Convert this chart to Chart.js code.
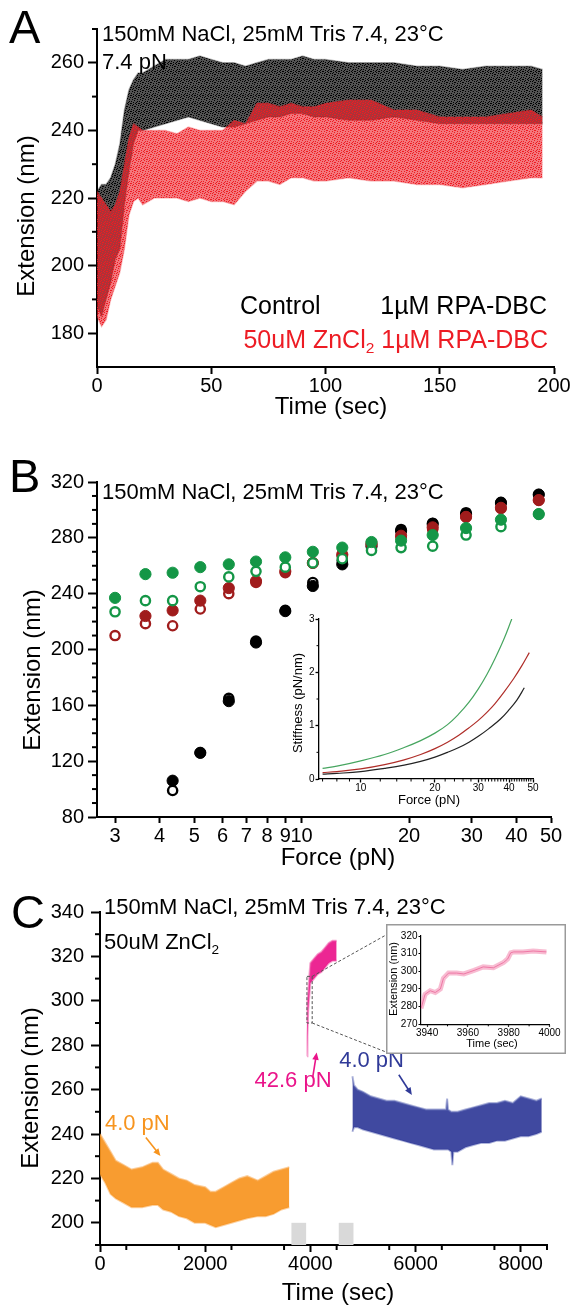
<!DOCTYPE html>
<html>
<head>
<meta charset="utf-8">
<title>RPA-DBC extension traces</title>
<script src="https://cdn.jsdelivr.net/npm/chart.js@4.4.1/dist/chart.umd.min.js"></script>
<style>
  html, body { margin: 0; padding: 0; background: #fff; }
  body { position: relative; width: 574px; height: 1305px; overflow: hidden; }
  canvas { position: absolute; }
</style>
</head>
<body>
<canvas id="chartA" width="574" height="420" style="left:0;top:0;width:574px;height:420px"></canvas>
<canvas id="chartB" width="574" height="450" style="left:0;top:420px;width:574px;height:450px"></canvas>
<canvas id="insetB" width="265" height="215" style="left:285px;top:600px;width:265px;height:215px"></canvas>
<canvas id="chartC" width="574" height="435" style="left:0;top:870px;width:574px;height:435px"></canvas>
<canvas id="insetC" width="180" height="130" style="left:386px;top:924px;width:180px;height:130px"></canvas>
<script>
// ---- panel A : extension vs time at 7.4 pN (envelope of the scatter cloud)
const aTime = [0, 2, 4, 6, 8, 10, 12, 14, 16, 18, 20, 25, 30, 35, 40, 45, 50, 55, 60, 65, 70, 75, 80, 85, 90, 95, 100, 110, 120, 130, 140, 150, 160, 170, 180, 190, 195];
const aCtrlHigh = [222, 224, 224, 226, 230, 236, 246, 252, 255, 257, 257, 259, 261, 261, 261, 262, 261, 260, 260, 259, 260, 261, 261, 261, 262, 261, 261, 260, 260, 260, 259, 259, 258, 259, 259, 259, 258];
const aCtrlLow = [188, 185, 190, 195, 202, 205, 218, 228, 236, 240, 240, 241, 242, 243, 244, 243, 242, 241, 241, 242, 243, 244, 244, 245, 245, 244, 244, 243, 243, 244, 243, 242, 242, 242, 242, 242, 242];
const aZnHigh = [222, 220, 218, 216, 218, 222, 230, 238, 242, 241, 240, 240, 240, 239, 241, 240, 240, 240, 243, 242, 248, 248, 247, 248, 247, 247, 248, 249, 249, 246, 246, 244, 244, 244, 245, 246, 244];
const aZnLow = [185, 182, 184, 190, 194, 198, 205, 215, 219, 220, 218, 220, 220, 220, 219, 220, 219, 219, 218, 222, 225, 225, 224, 226, 226, 225, 225, 226, 225, 225, 224, 224, 223, 224, 225, 226, 226];
const aTicksX = [0, 50, 100, 150, 200];
const aTicksY = [180, 200, 220, 240, 260];

// ---- panel B : force-extension points
const bForce = [3.0, 3.65, 4.35, 5.2, 6.25, 7.45, 9.0, 10.75, 13.0, 15.7, 19.0, 23.3, 28.9, 36.2, 46.2];
const bGreenFilled = [237, 254, 255, 259, 261, 263, 266, 270, 273, 277, 278, 282, 287, 293, 297];
const bGreenOpen = [227, 235, 235, 245, 252, 256, 259, 262, 265, 271, 273, 274, 282, 288, 297];
const bRedFilled = [null, 224, 228, 235, 244, 249, 256, 262, 268, 276, 281.5, 287.5, 295, 301.5, 307];
const bRedOpen = [210, 218.5, 217, 229, 240, 248, 255, 262, 267, 275, 280, 286, 295, 301, 307];
const bBlackFilled = [null, null, 106, 126, 163, 205, 227.5, 245.5, 261, 274, 285, 290, 297, 305, 311];
const bBlackOpen = [null, null, 99, 126, 165, 206, 228, 248, 263.5, 275.5, 286, 290.5, 298, 305.5, 311];
const bTicksX = [3, 4, 5, 6, 7, 8, 9, 10, 20, 30, 40, 50];
const bTicksY = [80, 120, 160, 200, 240, 280, 320];

// ---- panel B inset : stiffness vs force
const stiffGreenF = [7, 8, 10, 12.5, 15, 17.5, 20, 22.5, 25, 27.5, 30, 32.5, 35, 38, 41];
const stiffGreenS = [0.2, 0.24, 0.34, 0.46, 0.59, 0.72, 0.86, 1.02, 1.22, 1.44, 1.69, 1.96, 2.25, 2.61, 3.0];
const stiffRedF = [7, 8, 10, 12.5, 15, 17.5, 20, 22.5, 25, 27.5, 30, 32.5, 35, 38, 41.7, 45, 48.3];
const stiffRedS = [0.12, 0.14, 0.19, 0.27, 0.36, 0.46, 0.57, 0.69, 0.82, 0.96, 1.1, 1.25, 1.41, 1.62, 1.88, 2.12, 2.37];
const stiffBlackF = [7, 8, 10, 12.5, 15, 17.5, 20, 22.5, 25, 27.5, 30, 33, 36.8, 40, 43, 46.1];
const stiffBlackS = [0.09, 0.105, 0.14, 0.2, 0.26, 0.33, 0.41, 0.5, 0.59, 0.69, 0.8, 0.94, 1.12, 1.3, 1.48, 1.71];
const stiffTicksX = [10, 20, 30, 40, 50];
const stiffTicksY = [0, 1, 2, 3];

// ---- panel C : long time trace in 50uM ZnCl2
const cOrangeTime = [0, 100, 200, 300, 450, 600, 800, 1000, 1100, 1200, 1350, 1500, 1650, 1800, 2000, 2100, 2200, 2350, 2500, 2650, 2800, 3000, 3150, 3300, 3450, 3600];
const cOrangeHigh = [240, 236, 232, 228, 226, 224, 225, 227, 227, 224, 222, 220, 219, 217, 216, 214, 214, 216, 218, 220, 221, 219, 221, 223, 224, 225];
const cOrangeLow = [222, 218, 213, 211, 209, 207, 207, 208, 208, 206, 205, 203, 202, 200, 200, 199, 198, 199, 200, 201, 202, 203, 203, 204, 206, 207];
const cPinkTime = [3937, 3945, 3960, 3980, 4000, 4070, 4140, 4210, 4280, 4350, 4420, 4500];
const cPinkHigh = [290, 300, 304, 311, 317, 319, 321, 322, 324, 326, 327, 327];
const cPinkLow = [275, 284, 296, 302, 308, 310, 312, 313, 315, 317, 318, 318];
const cBlueTime = [4800, 4830, 4900, 5000, 5150, 5300, 5450, 5600, 5750, 5900, 6050, 6200, 6350, 6500, 6580, 6600, 6620, 6680, 6700, 6720, 6800, 6950, 7100, 7250, 7400, 7550, 7700, 7850, 8000, 8150, 8300, 8400];
const cBlueHigh = [266, 262, 260, 259, 257, 256, 255, 255, 254, 253, 252, 251, 251, 251, 251, 256, 251, 250, 250, 250, 250, 251, 252, 253, 254, 254, 255, 254, 257, 256, 255, 256];
const cBlueLow = [241, 243, 243, 242, 241, 240, 239, 238, 237, 236, 235, 234, 233, 233, 233, 233, 233, 232, 226, 232, 232, 234, 235, 236, 236, 237, 237, 238, 239, 239, 240, 241];
const cGapFrom = [3640, 4540];
const cGapTo = [3920, 4820];
const cGapExt = [190, 200];
const cTicksX = [0, 2000, 4000, 6000, 8000];
const cTicksY = [200, 220, 240, 260, 280, 300, 320, 340];

// ---- panel C inset : zoom on the 42.6 pN step
const zoomTime = [3937, 3939, 3941.5, 3944, 3946.5, 3948, 3950.5, 3954.5, 3958, 3963, 3967.5, 3972.5, 3977.5, 3979.5, 3981, 3982.5, 3987, 3992, 3998.5];
const zoomExt = [279, 287, 289, 288, 290, 296, 299, 299, 298.5, 300.5, 302.5, 302, 305, 307, 310.5, 311, 311, 311.5, 311];
const zoomTicksX = [3940, 3960, 3980, 4000];
const zoomTicksY = [270, 280, 290, 300, 310, 320];

const FONT = "'Liberation Sans', Arial, Helvetica, sans-serif";
Chart.defaults.font.family = FONT;
Chart.defaults.color = "#000";
Chart.defaults.animation = false;
Chart.defaults.plugins.legend.display = false;
Chart.defaults.plugins.tooltip.enabled = false;

const pts = (xs, ys) => xs.map((x, i) => ({x: x, y: ys[i]})).filter((p) => p.y != null);
const range = (a, b, step, skip) => {
  const out = [];
  for (let v = a; v <= b + 1e-9; v += step) {
    if (!skip || skip.indexOf(v) < 0) out.push(v);
  }
  return out;
};

function axis(o) {
  return {
    type: o.type || "linear",
    min: o.min,
    max: o.max,
    afterBuildTicks: (s) => {
      s.ticks = o.ticks.map((v) => ({value: v}));
    },
    afterFit: (s) => {
      if (s.isHorizontal()) s.height = o.size;
      else s.width = o.size;
    },
    border: {display: true, color: "#000", width: o.line},
    grid: {drawOnChartArea: false, drawTicks: true, tickLength: o.tick, tickWidth: o.line, tickColor: "#000"},
    ticks: {
      autoSkip: false, maxRotation: 0, minRotation: 0, padding: o.pad, color: "#000",
      font: {size: o.font, family: FONT},
      callback: (v) => String(v),
    },
    title: {display: false},
  };
}

function minorTicks(list) {
  return {
    id: "minorTicks",
    afterDraw(chart) {
      const ctx = chart.ctx;
      ctx.save();
      ctx.strokeStyle = "#000";
      list.forEach((m) => {
        const s = chart.scales[m.axis];
        ctx.lineWidth = m.width;
        m.values.forEach((v) => {
          const p = s.getPixelForValue(v);
          ctx.beginPath();
          if (s.isHorizontal()) {
            ctx.moveTo(p, s.top);
            ctx.lineTo(p, s.top + m.len);
          } else {
            ctx.moveTo(s.right, p);
            ctx.lineTo(s.right - m.len, p);
          }
          ctx.stroke();
        });
      });
      ctx.restore();
    },
  };
}

function putText(ctx, item, chart) {
  let x = item.x;
  let y = item.y;
  if (item.at) {
    x = chart.scales.x.getPixelForValue(item.at[0]);
    y = chart.scales.y.getPixelForValue(item.at[1]);
  }
  const parts = Array.isArray(item.text) ? item.text : [{t: item.text}];
  const sizeOf = (p) => (p.sub ? item.size * 0.62 : item.size);
  ctx.save();
  ctx.translate(x, y);
  if (item.rotate) ctx.rotate(item.rotate);
  ctx.fillStyle = item.color || "#000";
  ctx.textBaseline = "middle";
  ctx.textAlign = "left";
  const widths = parts.map((p) => {
    ctx.font = sizeOf(p) + "px " + FONT;
    return ctx.measureText(p.t).width;
  });
  const total = widths.reduce((a, b) => a + b, 0);
  let cx = item.align === "right" ? -total : item.align === "center" ? -total / 2 : 0;
  parts.forEach((p, i) => {
    ctx.font = sizeOf(p) + "px " + FONT;
    ctx.fillText(p.t, cx, p.sub ? item.size * 0.32 : 0);
    cx += widths[i];
  });
  ctx.restore();
}

function textLayer(items) {
  return {
    id: "textLayer",
    afterDraw(chart) {
      items.forEach((it) => putText(chart.ctx, it, chart));
    },
  };
}

// grainy fill so the dense point clouds read as dots rather than a flat area
const GRAIN = [[0, 0], [5, 0], [2, 1], [7, 2], [4, 3], [1, 3], [6, 4], [3, 5], [0, 6], [5, 6], [2, 7], [7, 7], [4, 1], [1, 5], [6, 2], [3, 7]];
function speckle(rgb, base, dot) {
  const tile = document.createElement("canvas");
  tile.width = 8;
  tile.height = 8;
  const g = tile.getContext("2d");
  g.fillStyle = "rgba(" + rgb + "," + base + ")";
  g.fillRect(0, 0, 8, 8);
  g.fillStyle = "rgba(" + rgb + "," + dot + ")";
  GRAIN.forEach((p) => g.fillRect(p[0], p[1], 1, 1));
  return g.createPattern(tile, "repeat");
}

function band(xs, hi, lo, fillStyle, edge, edgeWidth) {
  return [
    {data: pts(xs, hi), fill: "+1", backgroundColor: fillStyle, borderColor: edge, borderWidth: edgeWidth, pointRadius: 0, tension: 0},
    {data: pts(xs, lo), fill: false, borderColor: edge, borderWidth: edgeWidth, pointRadius: 0, tension: 0},
  ];
}

const GREEN = "rgb(20,150,70)";
const DKRED = "rgb(160,28,28)";
const RED = "rgb(237,28,36)";
const ORANGE = "rgb(247,148,30)";
const MAGENTA = "rgb(234,20,138)";
const BLUE = "rgb(48,58,152)";
const HEADER = "150mM NaCl, 25mM Tris 7.4, 23°C";

// ================= A
new Chart(document.getElementById("chartA"), {
  type: "line",
  data: {
    datasets: [
      ...band(aTime, aZnHigh, aZnLow, speckle("237,28,36", 0.6, 1), "rgba(237,28,36,0.25)", 1.5),
      ...band(aTime, aCtrlHigh, aCtrlLow, speckle("0,0,0", 0.68, 1), "rgba(0,0,0,0.25)", 1.5),
    ],
  },
  options: {
    responsive: false,
    layout: {padding: {left: 0, top: 29, right: 20, bottom: 0}},
    scales: {
      x: axis({min: 0, max: 200, ticks: aTicksX, size: 53, line: 2, tick: 7, pad: 0, font: 20}),
      y: axis({min: 170, max: 270, ticks: aTicksY, size: 97, line: 2, tick: 9, pad: 4, font: 20}),
    },
  },
  plugins: [
    minorTicks([{axis: "y", values: [190, 210, 230, 250, 270], len: 5, width: 2}]),
    textLayer([
      {text: "A", x: 9, y: 30, size: 47},
      {text: HEADER, x: 102, y: 35, size: 22},
      {text: "7.4 pN", x: 102, y: 63, size: 22},
      {text: "Control", x: 240, y: 307, size: 25},
      {text: "1µM RPA-DBC", x: 547, y: 307, size: 25, align: "right"},
      {text: [{t: "50uM ZnCl"}, {t: "2", sub: true}, {t: " 1µM RPA-DBC"}], x: 548, y: 341, size: 25, align: "right", color: RED},
      {text: "Extension (nm)", x: 27, y: 216, size: 24, align: "center", rotate: -Math.PI / 2},
      {text: "Time (sec)", x: 331, y: 407, size: 24, align: "center"},
    ]),
  ],
});

// ================= B
const openPts = (ys, color) => ({
  data: pts(bForce, ys), pointRadius: 4.6, pointBorderWidth: 2.4,
  pointBackgroundColor: "#fff", pointBorderColor: color, backgroundColor: "#fff", borderColor: color,
});
const filledPts = (ys, color) => ({
  data: pts(bForce, ys), pointRadius: 5.6, pointBorderWidth: 1,
  pointBackgroundColor: color, pointBorderColor: color, backgroundColor: color, borderColor: color,
});

new Chart(document.getElementById("chartB"), {
  type: "scatter",
  data: {
    datasets: [
      filledPts(bGreenFilled, GREEN),
      openPts(bGreenOpen, GREEN),
      filledPts(bRedFilled, DKRED),
      openPts(bRedOpen, DKRED),
      filledPts(bBlackFilled, "#000"),
      openPts(bBlackOpen, "#000"),
    ],
  },
  options: {
    responsive: false,
    layout: {padding: {left: 0, top: 62, right: 23, bottom: 0}},
    scales: {
      x: axis({type: "logarithmic", min: 2.67, max: 50, ticks: bTicksX, size: 53, line: 2, tick: 6, pad: 1, font: 20}),
      y: axis({min: 80, max: 320, ticks: bTicksY, size: 97, line: 2, tick: 9, pad: 4, font: 20}),
    },
  },
  plugins: [
    minorTicks([{axis: "y", values: range(80, 320, 10, bTicksY), len: 5, width: 2}]),
    textLayer([
      {text: "B", x: 9, y: 59, size: 47},
      {text: HEADER, x: 102, y: 73, size: 22},
      {text: "Extension (nm)", x: 33, y: 250, size: 24, align: "center", rotate: -Math.PI / 2},
      {text: "Force (pN)", x: 338, y: 438, size: 24, align: "center"},
    ]),
  ],
});

const curve = (xs, ys, color) => ({
  data: pts(xs, ys), borderColor: color, borderWidth: 1.2, pointRadius: 0, fill: false, tension: 0.4,
});

new Chart(document.getElementById("insetB"), {
  type: "line",
  data: {
    datasets: [
      curve(stiffGreenF, stiffGreenS, "rgb(70,165,95)"),
      curve(stiffRedF, stiffRedS, "rgb(175,45,40)"),
      curve(stiffBlackF, stiffBlackS, "rgb(35,35,35)"),
    ],
  },
  options: {
    responsive: false,
    layout: {padding: {left: 0, top: 19, right: 17, bottom: 0}},
    scales: {
      x: axis({type: "logarithmic", min: 6.77, max: 50, ticks: stiffTicksX, size: 36, line: 1.3, tick: 3.5, pad: 0, font: 10}),
      y: axis({min: 0, max: 3, ticks: stiffTicksY, size: 34, line: 1.3, tick: 3.5, pad: 1, font: 10}),
    },
  },
  plugins: [
    minorTicks([
      {axis: "x", values: [7, 8, 9, 12, 14, 16, 18, 22, 24, 26, 28, 31, 32, 33, 34, 35, 36, 37, 38, 39, 41, 42, 43, 44, 45, 46, 47, 48, 49], len: 2.5, width: 1},
      {axis: "y", values: [0.5, 1.5, 2.5], len: 2.5, width: 1},
    ]),
    textLayer([
      {text: "Stiffness (pN/nm)", x: 13, y: 103, size: 13, align: "center", rotate: -Math.PI / 2},
      {text: "Force (pN)", x: 144, y: 200, size: 13, align: "center"},
    ]),
  ],
});

// ================= C
const arrow = (ctx, x1, y1, x2, y2, color) => {
  const ang = Math.atan2(y2 - y1, x2 - x1);
  const h = 8;
  ctx.strokeStyle = color;
  ctx.fillStyle = color;
  ctx.lineWidth = 1.6;
  ctx.beginPath();
  ctx.moveTo(x1, y1);
  ctx.lineTo(x2 - h * 0.7 * Math.cos(ang), y2 - h * 0.7 * Math.sin(ang));
  ctx.stroke();
  ctx.beginPath();
  ctx.moveTo(x2, y2);
  ctx.lineTo(x2 - h * Math.cos(ang - 0.42), y2 - h * Math.sin(ang - 0.42));
  ctx.lineTo(x2 - h * Math.cos(ang + 0.42), y2 - h * Math.sin(ang + 0.42));
  ctx.closePath();
  ctx.fill();
};

const cOverlay = {
  id: "cOverlay",
  beforeDatasetsDraw(chart) {
    const {ctx, scales: {x, y}} = chart;
    ctx.save();
    ctx.fillStyle = "#d9d9d9";
    cGapFrom.forEach((t0, i) => {
      const x0 = x.getPixelForValue(t0);
      const x1 = x.getPixelForValue(cGapTo[i]);
      const y0 = y.getPixelForValue(cGapExt[1]);
      const y1 = y.getPixelForValue(cGapExt[0]);
      ctx.fillRect(x0, y0, x1 - x0, y1 - y0);
    });
    ctx.restore();
  },
  afterDatasetsDraw(chart) {
    const {ctx, scales: {x, y}} = chart;
    const px = (t) => x.getPixelForValue(t);
    const py = (v) => y.getPixelForValue(v);
    ctx.save();
    // zoom window and connectors to the inset
    ctx.strokeStyle = "#555";
    ctx.lineWidth = 1;
    ctx.setLineDash([3, 2]);
    ctx.strokeRect(px(3935), py(311), px(4035) - px(3935), py(290) - py(311));
    ctx.beginPath();
    ctx.moveTo(px(4035), py(311));
    ctx.lineTo(386, 65);
    ctx.moveTo(px(4035), py(290));
    ctx.lineTo(386, 182);
    ctx.stroke();
    ctx.setLineDash([]);
    arrow(ctx, px(4044), py(265.4), px(4120), py(276.7), MAGENTA);
    arrow(ctx, px(5682), py(266.7), px(5930), py(257.6), BLUE);
    arrow(ctx, px(872), py(238.4), px(1149), py(230.1), ORANGE);
    ctx.restore();
  },
};

new Chart(document.getElementById("chartC"), {
  type: "line",
  data: {
    datasets: [
      ...band(cOrangeTime, cOrangeHigh, cOrangeLow, "rgba(247,148,30,0.92)", "rgba(250,170,80,0.55)", 2),
      ...band(cPinkTime, cPinkHigh, cPinkLow, "rgba(234,20,138,0.92)", "rgba(240,90,170,0.55)", 2),
      ...band(cBlueTime, cBlueHigh, cBlueLow, "rgba(48,58,152,0.92)", "rgba(110,120,190,0.55)", 2),
    ],
  },
  options: {
    responsive: false,
    layout: {padding: {left: 0, top: 42, right: 27, bottom: 0}},
    scales: {
      x: axis({min: 0, max: 8500, ticks: cTicksX, size: 60, line: 2, tick: 7, pad: 0, font: 20}),
      y: axis({min: 190, max: 340, ticks: cTicksY, size: 100, line: 2, tick: 9, pad: 7, font: 20}),
    },
  },
  plugins: [
    cOverlay,
    minorTicks([
      {axis: "x", values: range(500, 8500, 1000), len: 5, width: 2},
      {axis: "y", values: range(190, 330, 20), len: 5, width: 2},
    ]),
    textLayer([
      {text: "C", x: 11, y: 45, size: 47},
      {text: HEADER, x: 104, y: 38, size: 22},
      {text: [{t: "50uM ZnCl"}, {t: "2", sub: true}], x: 104, y: 73, size: 22},
      {text: "42.6 pN", at: [3670, 263.7], size: 22, align: "center", color: MAGENTA},
      {text: "4.0 pN", at: [5164, 272.7], size: 22, align: "center", color: BLUE},
      {text: "4.0 pN", at: [710, 244.6], size: 22, align: "center", color: ORANGE},
      {text: "Extension (nm)", x: 31, y: 218, size: 24, align: "center", rotate: -Math.PI / 2},
      {text: "Time (sec)", x: 338, y: 423, size: 24, align: "center"},
    ]),
  ],
});

const insetFrame = {
  id: "insetFrame",
  beforeDraw(chart) {
    const {ctx, width, height} = chart;
    ctx.save();
    ctx.fillStyle = "#fff";
    ctx.fillRect(0, 0, width, height);
    ctx.strokeStyle = "#9a9a9a";
    ctx.lineWidth = 1.5;
    ctx.strokeRect(0.75, 0.75, width - 1.5, height - 1.5);
    ctx.restore();
  },
};

new Chart(document.getElementById("insetC"), {
  type: "line",
  data: {
    datasets: [
      {data: pts(zoomTime, zoomExt), borderColor: "rgb(238,120,165)", borderWidth: 1, pointRadius: 0, fill: false, tension: 0},
      {data: pts(zoomTime, zoomExt), borderColor: "rgba(245,165,195,0.75)", borderWidth: 5, pointRadius: 0, fill: false, tension: 0},
    ],
  },
  options: {
    responsive: false,
    layout: {padding: {left: 0, top: 12, right: 16.5, bottom: 0}},
    scales: {
      x: axis({min: 3937, max: 4000, ticks: zoomTicksX, size: 29.7, line: 1.2, tick: 2.5, pad: 0, font: 10}),
      y: axis({min: 270, max: 320, ticks: zoomTicksY, size: 35, line: 1.2, tick: 2.5, pad: 1, font: 10}),
    },
  },
  plugins: [
    insetFrame,
    minorTicks([{axis: "x", values: [3950, 3970, 3990], len: 2, width: 1}]),
    textLayer([
      {text: "Extension (nm)", x: 8, y: 55, size: 11, align: "center", rotate: -Math.PI / 2},
      {text: "Time (sec)", x: 106, y: 120, size: 11, align: "center"},
    ]),
  ],
});
</script>
</body>
</html>
